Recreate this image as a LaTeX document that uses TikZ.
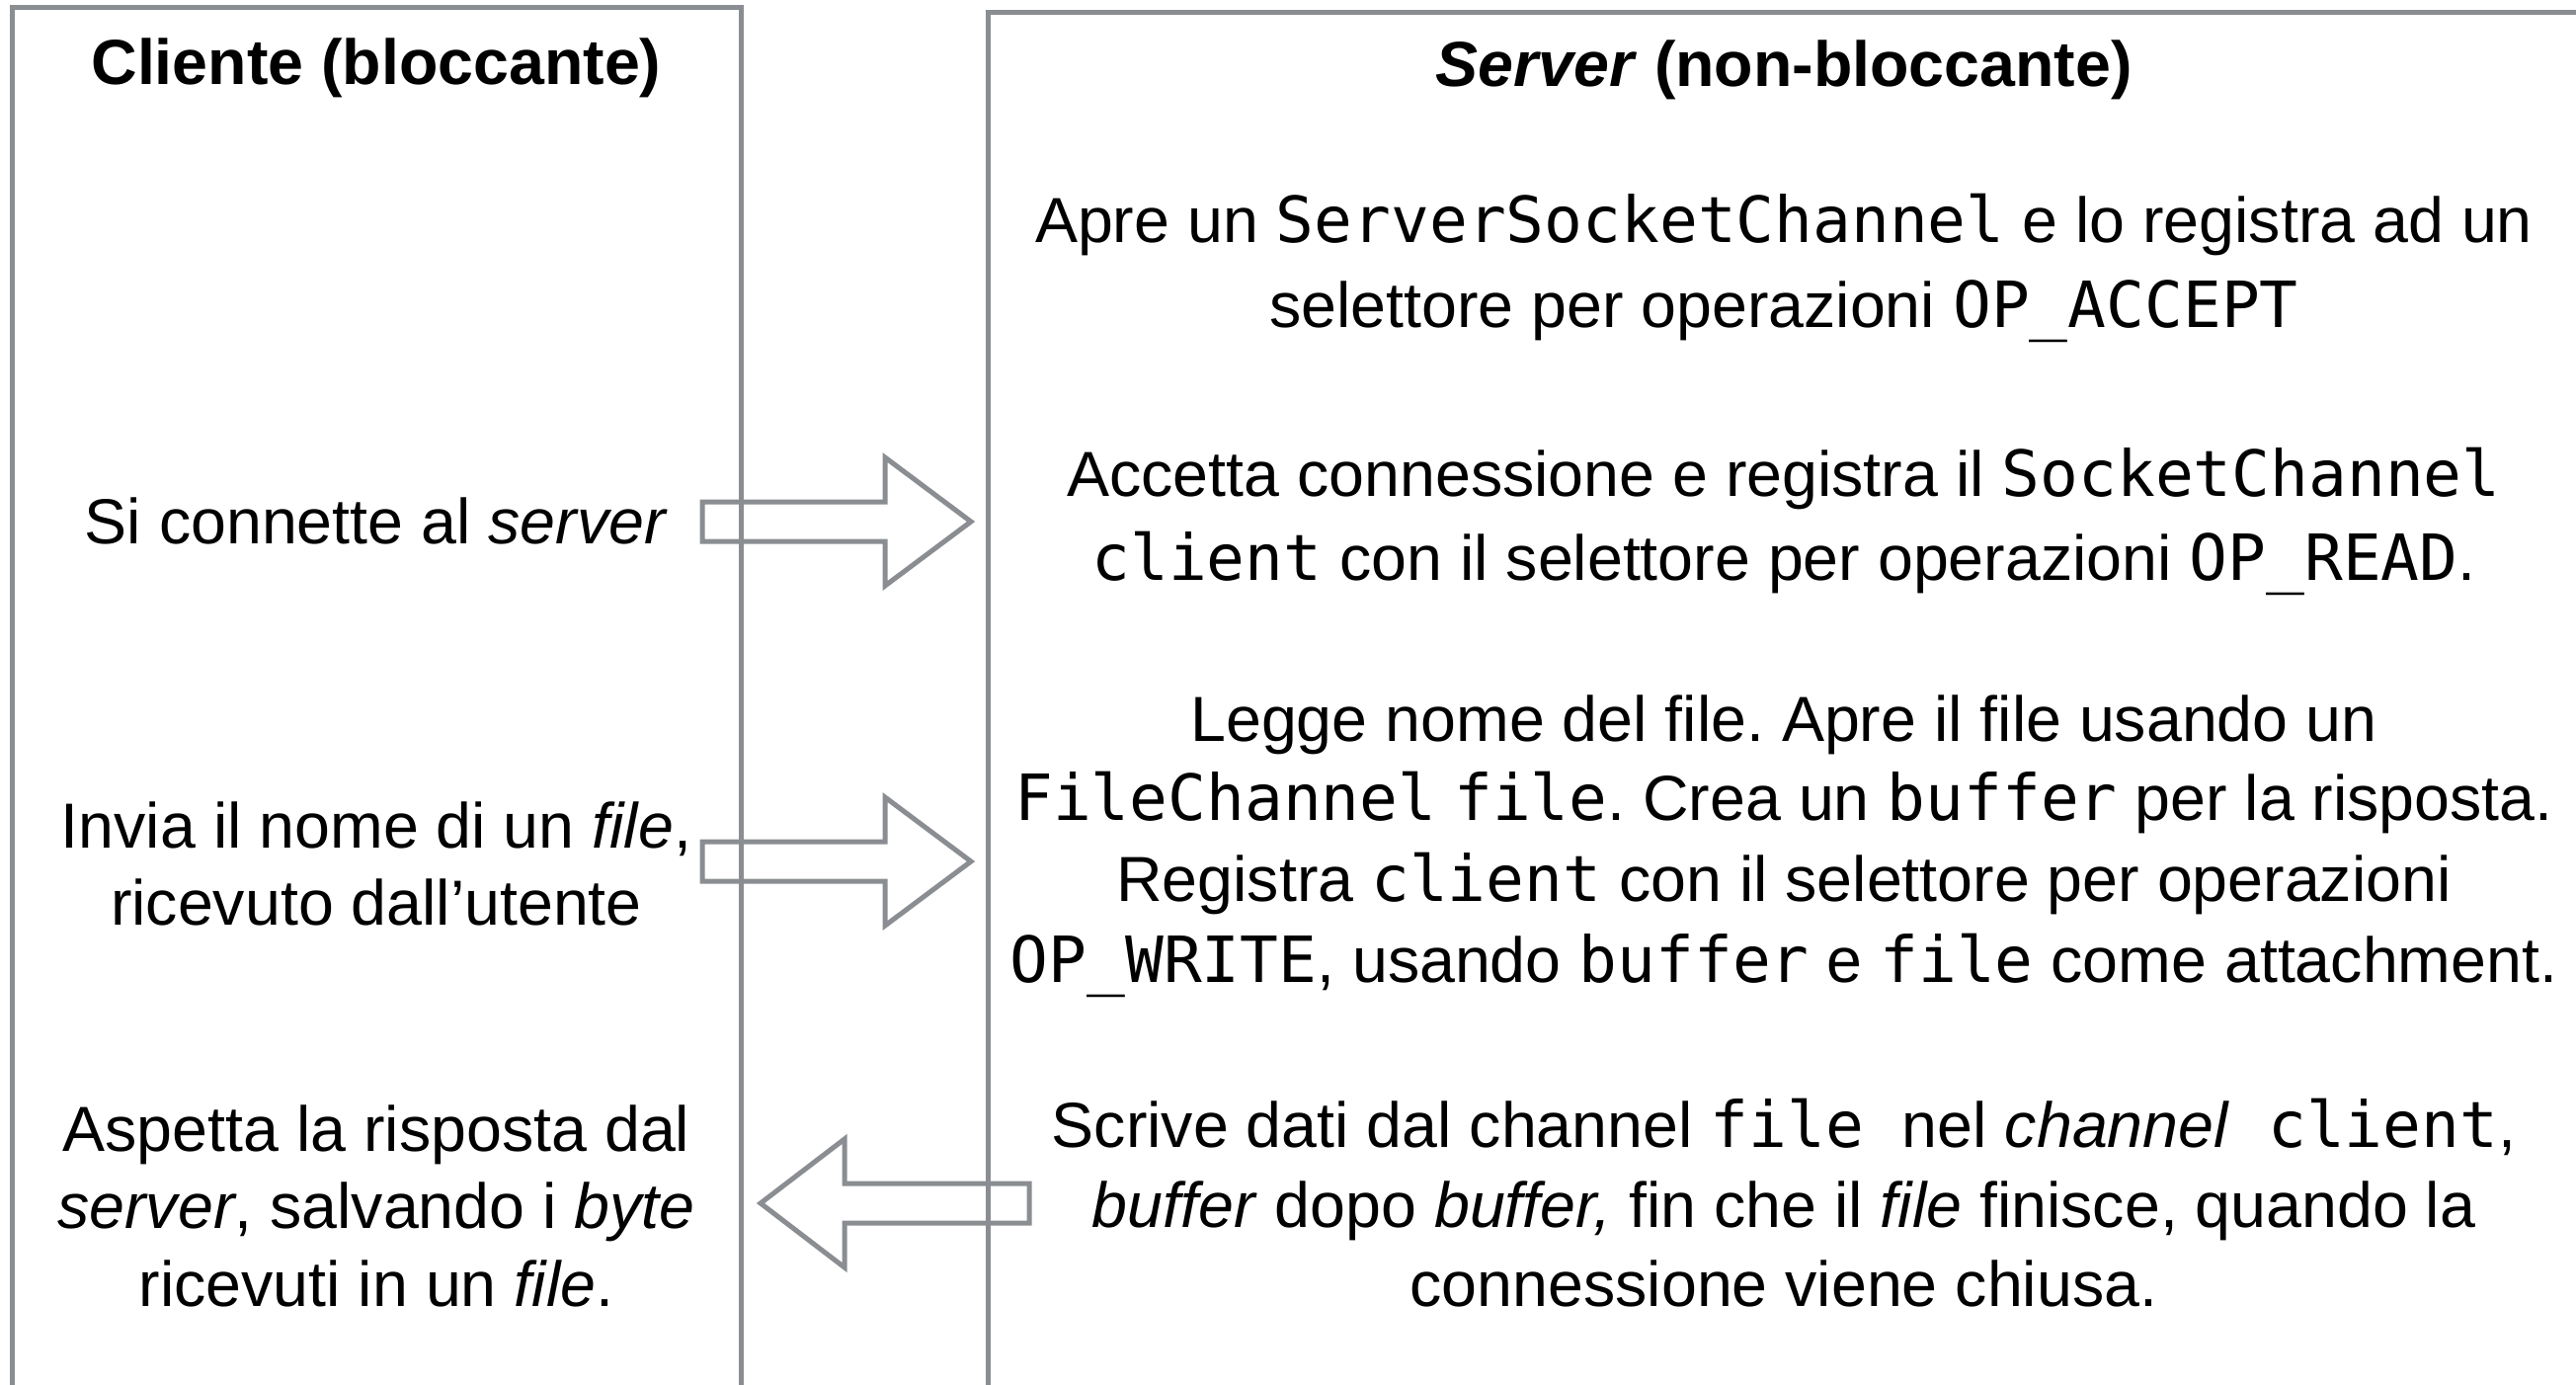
\documentclass[tikz,border=0pt]{standalone}
\usepackage{fontspec}
\setmainfont{Liberation Sans}
\setmonofont{DejaVu Sans Mono}
\definecolor{linegray}{HTML}{8A8D91}
\frenchspacing
\begin{document}
\begin{tikzpicture}[x=1pt,y=-1pt,
  box/.style={draw=linegray, line width=5pt, rectangle, inner sep=0pt},
  blockarrow/.style={draw=linegray, line width=5pt, line join=miter},
  txt/.style={anchor=base, inner sep=0pt, font=\fontsize{64.5}{80}\selectfont\frenchspacing},
  titletxt/.style={anchor=base, inner sep=0pt, font=\fontsize{64.5}{80}\selectfont\bfseries}]
\useasboundingbox (0,0) rectangle (2608,1401);
\clip (0,0) rectangle (2608,1401);
% columns
\node[box, minimum width=738pt, minimum height=1450pt] (clientbox) at (381.5,732.5) {};
\node[box, minimum width=1609.5pt, minimum height=1450pt] (serverbox) at (1805.25,737.5) {};
% titles
\node[titletxt] (clienttitle) at (381,85) {Cliente (bloccante)};
\node[titletxt] (servertitle) at (1806,87) {\textit{Server} (non-bloccante)};
% server text
\node[txt] (s1a) at (1806,245) {Apre un \texttt{ServerSocketChannel} e lo registra ad un};
\node[txt] (s1b) at (1806,331) {selettore per operazioni \texttt{OP\_ACCEPT}};
\node[txt] (s2a) at (1806,502) {Accetta connessione e registra il \texttt{SocketChannel}};
\node[txt] (s2b) at (1806,587) {\texttt{client} con il selettore per operazioni \texttt{OP\_READ}.};
\node[txt] (s3a) at (1806,750) {Legge nome del file. Apre il file usando un};
\node[txt] (s3b) at (1806,830) {\texttt{FileChannel} \texttt{file}. Crea un \texttt{buffer} per la risposta.};
\node[txt] (s3c) at (1806,912) {Registra \texttt{client} con il selettore per operazioni};
\node[txt] (s3d) at (1806,994) {\texttt{OP\_WRITE}, usando \texttt{buffer} e \texttt{file} come attachment.};
\node[txt] (s4a) at (1806,1161) {Scrive dati dal channel \texttt{file }nel \textit{channel}\texttt{ client},};
\node[txt] (s4b) at (1806,1242) {\textit{buffer} dopo \textit{buffer,} fin che il \textit{file} finisce, quando la};
\node[txt] (s4c) at (1806,1322) {connessione viene chiusa.};
% client text
\node[txt] (c1) at (381,550) {Si connette al \textit{server}};
\node[txt] (c2a) at (381,858) {Invia il nome di un \textit{file},};
\node[txt] (c2b) at (381,936) {ricevuto dall’utente};
\node[txt] (c3a) at (381,1165) {Aspetta la risposta dal};
\node[txt] (c3b) at (381,1243) {\textit{server}, salvando i \textit{byte}};
\node[txt] (c3c) at (381,1322) {ricevuti in un \textit{file}.};
% block arrows
\coordinate (a1) at (711,528);
\coordinate (a2) at (711,872);
\coordinate (a3) at (1042,1218);
\draw[blockarrow] (a1) ++(0,-20) -- ++(185,0) -- ++(0,-45) -- ++(87,65) -- ++(-87,65) -- ++(0,-45) -- ++(-185,0) -- cycle;
\draw[blockarrow] (a2) ++(0,-20) -- ++(185,0) -- ++(0,-45) -- ++(87,65) -- ++(-87,65) -- ++(0,-45) -- ++(-185,0) -- cycle;
\draw[blockarrow] (a3) ++(0,-20) -- ++(-187,0) -- ++(0,-45) -- ++(-85,65) -- ++(85,65) -- ++(0,-45) -- ++(187,0) -- cycle;
\end{tikzpicture}
\end{document}
